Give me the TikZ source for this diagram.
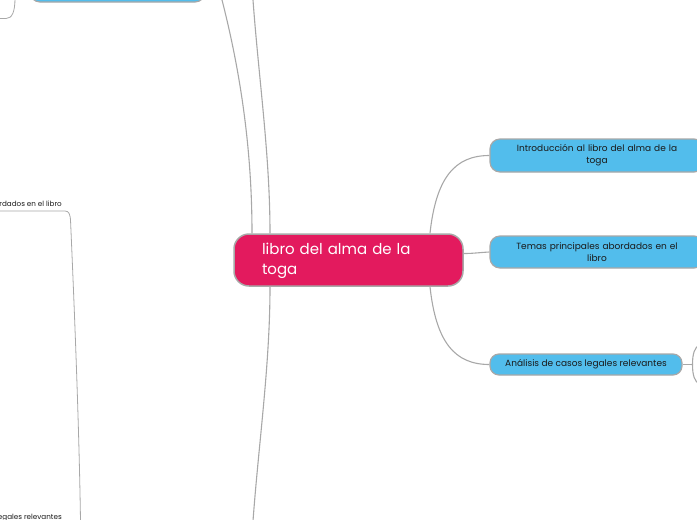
\documentclass[tikz,border=0pt]{standalone}
\usepackage{fontspec}
\setmainfont{Poppins}
\definecolor{crim}{HTML}{E31A5E}
\definecolor{sky}{HTML}{52BDEC}
\definecolor{edge}{HTML}{A8A8A8}
\definecolor{ink}{HTML}{1A1A1A}
\begin{document}
\begin{tikzpicture}[x=1pt,y=-1pt,
  conn/.style={draw=edge,line width=1.1pt},
  maintopic/.style={rectangle,rounded corners=15pt,fill=crim,draw=edge,line width=1.5pt,
     minimum width=229pt,minimum height=52pt,text=white,align=left,text width=173pt,
     font=\fontsize{15}{20}\selectfont,inner sep=0pt},
  subtopic/.style={rectangle,rounded corners=10pt,fill=sky,draw=edge,line width=1.2pt,
     text=ink,align=center,font=\fontsize{9}{12}\selectfont,inner sep=0pt},
  leaf/.style={inner sep=0pt,text=ink,font=\fontsize{7.2}{8}\selectfont,anchor=base east}]
\useasboundingbox (0,0) rectangle (697,520);
\clip (0,0) rectangle (697,520);
% central
\node[maintopic] (c) at (348.5,260) {\rule{0pt}{14pt}libro del alma de la\\toga};
% right subtopics
\node[subtopic,minimum width=214pt,minimum height=33pt,text width=180pt] (n1) at (597,155.5) {Introducción al libro del alma de la\\toga};
\node[subtopic,minimum width=214pt,minimum height=32pt,text width=180pt] (n2) at (597,252) {Temas principales abordados en el\\libro};
\node[subtopic,minimum width=192pt,minimum height=21pt,rounded corners=9pt] (n3) at (586,364.5) {Análisis de casos legales relevantes};
% top-left partial node
\node[subtopic,minimum width=175pt,minimum height=40pt] (tl) at (117.5,-18) {};
% left partial leaves
\node[leaf] (l1) at (62,206.5) {rdados en el libro};
\node[leaf] (l2) at (62,519) {legales relevantes};
% free ends
\coordinate (t1) at (222,0);
\coordinate (t2) at (253,0);
\coordinate (b1) at (253,521);
\coordinate (j3) at (692.5,364.5);
\coordinate (r1) at (699,345);
\coordinate (r2) at (699,384);
\coordinate (tlw) at (0,18.5);
\coordinate (tlt) at (15,-2);
\coordinate (lb) at (80.5,521);
% connectors
\draw[conn] (c.north)++(81.5,0) .. controls +(6,-55) and +(-35,0) .. (n1.west);
\draw[conn] (c.east)++(0,-6.5) .. controls +(10,0) and +(-10,0.5) .. (n2.west);
\draw[conn] (c.south)++(81.5,0) .. controls +(6,55) and +(-35,0) .. (n3.west);
\draw[conn] (c.north)++(-96.5,0) .. controls +(0,-78) and +(20,78) .. (t1);
\draw[conn] (c.north)++(-78.5,0) .. controls +(0,-78) and +(5.7,78) .. (t2);
\draw[conn] (c.south)++(-78.5,0) .. controls +(0,78) and +(5.7,-78) .. (b1);
\draw[conn] (n3.east) -- (j3);
\draw[conn] (j3) .. controls +(0,-12) and +(-4,3) .. (r1);
\draw[conn] (j3) .. controls +(0,12) and +(-4,-3) .. (r2);
\draw[conn,line width=0.8pt] (tlw) -- (6,18.5) .. controls (12,18.5) and (15,12) .. (tlt);
\draw[conn,line width=0.8pt] (l1.base west)++(0,4.5) -- (65,211) .. controls (69,211) and (70.3,214) .. (70.6,222) .. controls (74,300) and (79,420) .. (lb);
\end{tikzpicture}
\end{document}
